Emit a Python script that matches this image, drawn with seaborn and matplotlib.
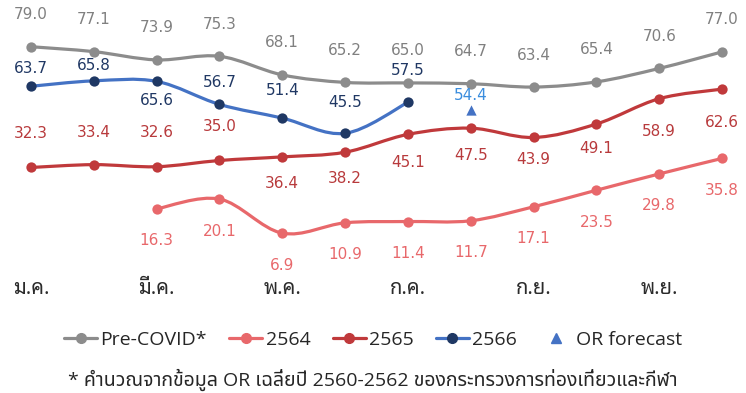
import matplotlib
matplotlib.use("Agg")
import matplotlib.pyplot as plt
from matplotlib.path import Path
from matplotlib.patches import PathPatch
from matplotlib.lines import Line2D
import numpy as np
import pandas as pd
import seaborn as sns

# ---- data: monthly hotel occupancy rate (%) ----
months = ["ม.ค.", "ก.พ.", "มี.ค.", "เม.ย.", "พ.ค.", "มิ.ย.",
          "ก.ค.", "ส.ค.", "ก.ย.", "ต.ค.", "พ.ย.", "ธ.ค."]
tick_months = ["ม.ค.", "มี.ค.", "พ.ค.", "ก.ค.", "ก.ย.", "พ.ย."]

pre_covid = [79.0, 77.1, 73.9, 75.3, 68.1, 65.2, 65.0, 64.7, 63.4, 65.4, 70.6, 77.0]
occ_2564 = [None, None, 16.3, 20.1, 6.9, 10.9, 11.4, 11.7, 17.1, 23.5, 29.8, 35.8]
occ_2565 = [32.3, 33.4, 32.6, 35.0, 36.4, 38.2, 45.1, 47.5, 43.9, 49.1, 58.9, 62.6]
occ_2566 = [63.7, 65.8, 65.6, 56.7, 51.4, 45.5, 57.5]
forecast_month = ["ส.ค."]
forecast_value = [54.4]

footnote = "* คำนวณจากข้อมูล OR เฉลี่ยปี 2560-2562 ของกระทรวงการท่องเที่ยวและกีฬา"

# ---- styling ----
sns.set_theme(style="white")
label_font = ["DejaVu Sans"]
thai_tick_font = ["Noto Sans Thai Looped", "DejaVu Sans"]
legend_font = ["Open Sans", "DejaVu Sans"]
note_font = ["Open Sans", "Noto Sans Thai", "DejaVu Sans"]

series = [
    # name, values, line colour, marker colour, text colour, label offsets (px, + = below)
    ("Pre-COVID*", pre_covid, "#8c8c8c", "#8c8c8c", "#808080", [-32] * 12),
    ("2564", occ_2564, "#e8686b", "#e8686b", "#e8686b", [32] * 12),
    ("2565", occ_2565, "#c0393b", "#c0393b", "#b83a3c",
     [-34, -32, -34, -34, 27, 26, 28, 27, 22, 24, 33, 33]),
    ("2566", occ_2566, "#4472c4", "#1f3864", "#203864",
     [-18, -15, 19, -22, -28, -31, -32]),
]

month_pos = {m: i for i, m in enumerate(months)}

fig = plt.figure(figsize=(7.46, 3.93), dpi=100)
ax = fig.add_axes([0, 142 / 393, 1, 251 / 393])


def smooth_path(xs, ys):
    """Cubic Bezier path through the points (Catmull-Rom style tangents)."""
    pts = np.column_stack([xs, ys]).astype(float)
    n = len(pts)
    verts = [pts[0]]
    codes = [Path.MOVETO]
    for i in range(n - 1):
        p0 = pts[i - 1] if i > 0 else pts[i]
        p1 = pts[i]
        p2 = pts[i + 1]
        p3 = pts[i + 2] if i + 2 < n else pts[i + 1]
        c1 = p1 + (p2 - p0) / 6.0
        c2 = p2 - (p3 - p1) / 6.0
        verts += [c1, c2, p2]
        codes += [Path.CURVE4] * 3
    return Path(verts, codes)


for z, (name, vals, lc, mc, tc, offs) in enumerate(series):
    df = pd.DataFrame({"month": months[:len(vals)], "value": vals}).dropna()
    df["x"] = df["month"].map(month_pos)
    ax.add_patch(PathPatch(smooth_path(df["x"], df["value"]), facecolor="none",
                           edgecolor=lc, lw=2.3, zorder=2 + z, capstyle="round"))
    sns.scatterplot(data=df, x="x", y="value", ax=ax, color=mc, s=55,
                    edgecolor=mc, linewidth=0, zorder=3 + z, legend=False)
    valid = [o for v, o in zip(vals, offs) if v is not None]
    for (xv, yv), off in zip(df[["x", "value"]].values, valid):
        ax.annotate(f"{yv:.1f}", (xv, yv), xytext=(0, -off * 0.72),
                    textcoords="offset points", ha="center", va="center",
                    fontsize=11, color=tc, family=label_font, zorder=10)

# forecast marker
fc_df = pd.DataFrame({"month": forecast_month, "value": forecast_value})
fc_df["x"] = fc_df["month"].map(month_pos)
sns.scatterplot(data=fc_df, x="x", y="value", ax=ax, marker="^", color="#4472c4",
                s=55, linewidth=0, zorder=9, legend=False)
for xv, yv in fc_df[["x", "value"]].values:
    ax.annotate(f"{yv:.1f}", (xv, yv), xytext=(0, 15 * 0.72),
                textcoords="offset points", ha="center", va="center",
                fontsize=11, color="#3a8dde", family=label_font, zorder=10)

ax.set_xlim(-31 / 62.82, (746 - 31) / 62.82)
ax.set_ylim(0, 251.2 / 2.588)
ax.set_xticks([month_pos[m] for m in tick_months])
ax.set_xticklabels(tick_months, family=thai_tick_font, fontsize=14.5,
                   fontweight="bold", color="#2b2b2b")
ax.tick_params(axis="x", length=0, pad=20.5)
ax.set_yticks([])
ax.set_xlabel("")
ax.set_ylabel("")
for sp in ax.spines.values():
    sp.set_visible(False)
ax.patch.set_alpha(0)

handles = [Line2D([], [], color=lc, marker="o", markerfacecolor=mc,
                  markeredgecolor=mc, markersize=7, lw=2.3)
           for _, _, lc, mc, _, _ in series]
handles.append(Line2D([], [], color="#4472c4", marker="^", lw=0, markersize=7))
labels = [s[0] for s in series] + ["OR forecast"]
fig.legend(handles, labels, loc="center", bbox_to_anchor=(0.5, 1 - 340 / 393),
           ncol=5, frameon=False, handlelength=1.7, handletextpad=0.16,
           columnspacing=1.15, prop={"family": legend_font, "size": 14})

fig.text(0.5, 1 - 380 / 393, footnote, ha="center", va="center",
         fontsize=14, family=note_font, color="#262626")

fig.savefig("out.png", dpi=100)
